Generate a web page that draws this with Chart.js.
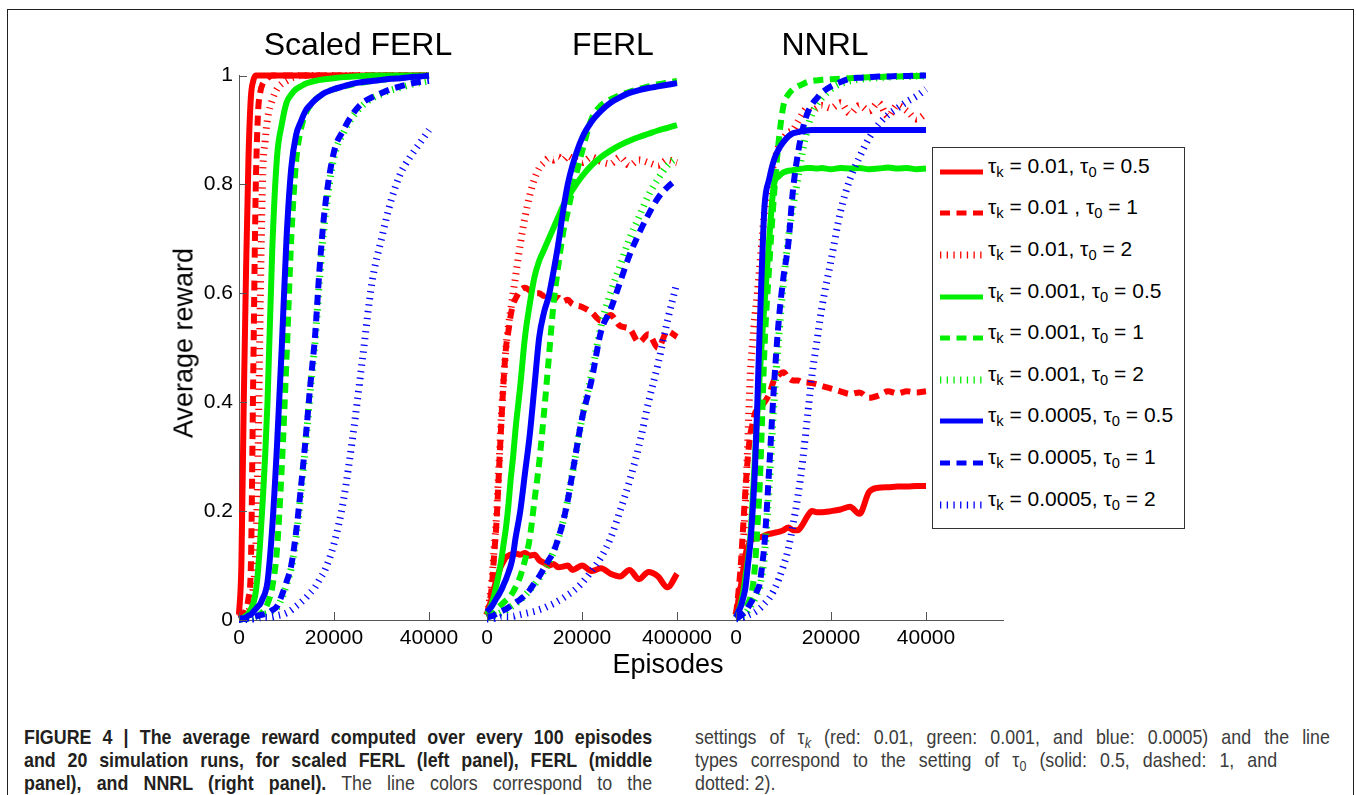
<!DOCTYPE html>
<html>
<head>
<meta charset="utf-8">
<title>Average reward: scaled FERL, FERL and NNRL</title>
<script src="https://cdn.jsdelivr.net/npm/chart.js@4.4.1/dist/chart.umd.min.js"></script>
<style>
  html, body { margin: 0; padding: 0; background: #fff; }
  body {
    position: relative; width: 1356px; height: 795px; overflow: hidden;
    font-family: "Liberation Sans", Arial, Helvetica, sans-serif; color: #000;
  }
  .frame {
    position: absolute; left: 7px; top: 9px; width: 1347px; height: 900px;
    border: 1.6px solid #231f20; box-sizing: border-box;
  }
  canvas.plot { position: absolute; left: 0; top: 0; }
  .lbl { position: absolute; line-height: 1; white-space: nowrap; transform: translate(-50%, -50%); }
  .title { font-size: 32px; }
  .axis-title { font-size: 27px; }
  .rot { transform: translate(-50%, -50%) rotate(-90deg); }

  #legend {
    position: absolute; left: 932px; top: 147px; width: 253px; height: 382px;
    border: 1px solid #333; box-sizing: border-box; background: #fff;
  }
  .lg-row { position: absolute; left: 0; width: 100%; height: 0; }
  .lg-row canvas { position: absolute; left: 7px; top: -5px; }
  .lg-row span { position: absolute; left: 55px; top: -17px; font-size: 21px; line-height: 1; white-space: nowrap; }
  sub { font-size: 0.7em; line-height: 0; vertical-align: -0.3em; }

  .cap {
    position: absolute; font-size: 21px; line-height: 1; color: #3c3c3c;
    transform-origin: 0 50%; transform: scaleX(0.85);
  }
  .cap b { color: #231f20; }
  .just { text-align: justify; text-align-last: justify; }
</style>
</head>
<body>
<div class="frame"></div>

<canvas class="plot" id="cScaled" width="1356" height="700"></canvas>
<canvas class="plot" id="cFerl" width="1356" height="700"></canvas>
<canvas class="plot" id="cNnrl" width="1356" height="700"></canvas>

<div class="lbl title" style="left:358px; top:44px;">Scaled FERL</div>
<div class="lbl title" style="left:613px; top:44px;">FERL</div>
<div class="lbl title" style="left:825px; top:44px;">NNRL</div>
<div class="lbl axis-title rot" style="left:184px; top:343px;">Average reward</div>
<div class="lbl axis-title" style="left:668px; top:664px;">Episodes</div>

<div id="legend"></div>

<div class="cap just" style="left:24px; top:726px; width:739px;"><b>FIGURE 4 | The average reward computed over every 100 episodes</b></div>
<div class="cap just" style="left:24px; top:749px; width:739px;"><b>and 20 simulation runs, for scaled FERL (left panel), FERL (middle</b></div>
<div class="cap just" style="left:24px; top:772px; width:739px;"><b>panel), and NNRL (right panel).</b> The line colors correspond to the</div>
<div class="cap just" style="left:695px; top:726px; width:747px;">settings of τ<sub><i>k</i></sub> (red: 0.01, green: 0.001, and blue: 0.0005) and the line</div>
<div class="cap" style="left:695px; top:749px; word-spacing:9.5px; white-space:nowrap;">types correspond to the setting of τ<sub>0</sub> (solid: 0.5, dashed: 1, and</div>
<div class="cap" style="left:695px; top:772px; white-space:nowrap;">dotted: 2).</div>

<script>
// episodes at which the averaged reward is sampled (shared by all series)
const episodes = [0, 500, 1000, 1500, 2000, 2500, 3000, 3500, 4000, 4500, 5000, 5500, 6000,
  7000, 8000, 9000, 10000, 11000, 12000, 13000, 14000, 15000, 16000, 17000, 18000,
  20000, 22000, 24000, 26000, 28000, 30000, 32000, 34000, 36000, 38000, 40000];

// ── Scaled FERL ──
const scaledK01T05 = [0.01,0.1,0.4,0.65,0.85,0.96,0.99,1,1,1,1,1,1, 1,1,1,1,1,1,1,1,1,1,1,1, 1,1,1,1,1,1,1,1,1,1,1];
const scaledK01T1 = [0.005,0.008,0.012,0.02,0.04,0.1,0.45,0.78,0.93,0.97,0.985,0.99,0.995, 1,1,1,1,1,1,1,1,1,1,1,1, 1,1,1,1,1,1,1,1,1,1,1];
const scaledK01T2 = [0.003,0.005,0.008,0.01,0.015,0.03,0.06,0.12,0.3,0.6,0.82,0.88,0.92, 0.955,0.975,0.985,0.99,0.995,0.998,1,1,1,1,1,1, 1,1,1,1,1,1,1,1,1,1,1];
const scaledK001T05 = [0.002,0.003,0.005,0.008,0.012,0.02,0.03,0.05,0.09,0.15,0.22,0.3,0.4, 0.68,0.85,0.91,0.95,0.965,0.975,0.98,0.985,0.988,0.99,0.992,0.993, 0.995,0.997,0.998,0.999,1,1,1,1,1,1,1];
const scaledK001T1 = [0.001,0.001,0.002,0.002,0.003,0.004,0.005,0.006,0.008,0.011,0.015,0.02,0.03, 0.06,0.13,0.28,0.48,0.7,0.84,0.9,0.93,0.945,0.955,0.962,0.968, 0.975,0.98,0.984,0.987,0.99,0.992,0.994,0.996,0.997,0.998,0.999];
const scaledK001T2 = [0.001,0.001,0.002,0.002,0.003,0.004,0.005,0.006,0.008,0.009,0.01,0.011,0.012, 0.017,0.023,0.04,0.065,0.095,0.15,0.23,0.32,0.42,0.51,0.63,0.73, 0.85,0.895,0.925,0.945,0.958,0.966,0.973,0.978,0.983,0.987,0.99];
const scaledK0005T05 = [0.002,0.003,0.003,0.005,0.008,0.01,0.015,0.02,0.025,0.03,0.04,0.05,0.07, 0.17,0.32,0.5,0.7,0.83,0.89,0.915,0.935,0.946,0.955,0.962,0.968, 0.975,0.98,0.985,0.988,0.99,0.992,0.994,0.995,0.997,0.998,1];
const scaledK0005T1 = [0.001,0.001,0.002,0.002,0.003,0.004,0.005,0.006,0.008,0.009,0.01,0.011,0.012, 0.018,0.025,0.045,0.07,0.1,0.16,0.24,0.33,0.43,0.52,0.65,0.75, 0.86,0.9,0.93,0.95,0.96,0.968,0.975,0.98,0.985,0.988,0.99];
const scaledK0005T2 = [0.001,0.001,0.001,0.001,0.001,0.002,0.002,0.003,0.003,0.004,0.004,0.005,0.005, 0.006,0.008,0.01,0.013,0.018,0.025,0.032,0.04,0.05,0.06,0.075,0.09, 0.14,0.22,0.34,0.48,0.62,0.7,0.77,0.82,0.85,0.875,0.9];

// ── FERL ──
const ferlK01T05 = [0.01,0.025,0.04,0.058,0.075,0.088,0.1,0.108,0.115,0.118,0.12,0.121,0.122, 0.12,0.123,0.118,0.12,0.11,0.105,0.1,0.103,0.097,0.098,0.1,0.092, 0.1,0.09,0.095,0.085,0.08,0.092,0.075,0.088,0.08,0.06,0.085];
const ferlK01T1 = [0.01,0.03,0.06,0.12,0.18,0.27,0.36,0.44,0.5,0.53,0.56,0.58,0.59, 0.605,0.61,0.605,0.6,0.6,0.595,0.6,0.59,0.592,0.585,0.588,0.58, 0.575,0.565,0.55,0.56,0.54,0.535,0.51,0.525,0.5,0.53,0.52];
const ferlK01T2 = [0.01,0.035,0.07,0.13,0.19,0.28,0.37,0.44,0.5,0.54,0.57,0.6,0.63, 0.69,0.74,0.78,0.81,0.83,0.84,0.848,0.845,0.85,0.845,0.852,0.848, 0.84,0.85,0.842,0.838,0.85,0.835,0.845,0.84,0.835,0.845,0.84];
const ferlK001T05 = [0.01,0.02,0.03,0.045,0.065,0.085,0.11,0.14,0.17,0.21,0.26,0.3,0.35, 0.43,0.52,0.58,0.63,0.66,0.68,0.7,0.72,0.74,0.76,0.775,0.79, 0.815,0.835,0.85,0.862,0.872,0.88,0.887,0.893,0.899,0.904,0.909];
const ferlK001T1 = [0.005,0.007,0.01,0.015,0.02,0.024,0.028,0.032,0.036,0.04,0.045,0.052,0.06, 0.08,0.11,0.15,0.22,0.29,0.38,0.48,0.58,0.65,0.71,0.75,0.79, 0.86,0.92,0.945,0.956,0.964,0.97,0.975,0.98,0.984,0.987,0.99];
const ferlK001T2 = [0.004,0.005,0.006,0.008,0.01,0.012,0.014,0.016,0.018,0.021,0.024,0.027,0.03, 0.037,0.045,0.055,0.065,0.077,0.09,0.105,0.125,0.15,0.18,0.22,0.27, 0.37,0.45,0.54,0.6,0.65,0.7,0.74,0.78,0.81,0.835,0.85];
const ferlK0005T05 = [0.015,0.02,0.025,0.032,0.04,0.047,0.055,0.065,0.075,0.087,0.1,0.12,0.15, 0.2,0.27,0.34,0.43,0.52,0.565,0.595,0.64,0.69,0.75,0.8,0.835, 0.885,0.915,0.935,0.95,0.96,0.968,0.973,0.977,0.98,0.983,0.986];
const ferlK0005T1 = [0.005,0.006,0.007,0.009,0.012,0.014,0.016,0.018,0.02,0.023,0.026,0.029,0.032, 0.038,0.045,0.055,0.068,0.08,0.095,0.11,0.125,0.15,0.18,0.22,0.27, 0.37,0.44,0.53,0.57,0.62,0.67,0.71,0.745,0.775,0.795,0.81];
const ferlK0005T2 = [0.002,0.002,0.003,0.003,0.004,0.004,0.005,0.005,0.006,0.006,0.007,0.007,0.008, 0.01,0.012,0.014,0.016,0.019,0.022,0.026,0.03,0.035,0.04,0.046,0.052, 0.068,0.09,0.115,0.15,0.2,0.255,0.32,0.4,0.47,0.55,0.62];

// ── NNRL ──
const nnrlK01T05 = [0.01,0.035,0.06,0.09,0.12,0.135,0.145,0.148,0.15,0.151,0.152,0.153,0.155, 0.158,0.16,0.162,0.165,0.17,0.165,0.165,0.175,0.19,0.2,0.198,0.198, 0.2,0.203,0.208,0.195,0.235,0.243,0.244,0.245,0.245,0.246,0.246];
const nnrlK01T1 = [0.01,0.05,0.1,0.17,0.24,0.3,0.34,0.36,0.38,0.385,0.39,0.395,0.4, 0.415,0.44,0.45,0.455,0.445,0.44,0.44,0.437,0.436,0.435,0.433,0.43, 0.425,0.42,0.415,0.418,0.408,0.412,0.42,0.416,0.42,0.418,0.42];
const nnrlK01T2 = [0.01,0.03,0.06,0.13,0.22,0.33,0.45,0.51,0.56,0.6,0.65,0.7,0.75, 0.8,0.84,0.87,0.885,0.895,0.9,0.915,0.93,0.94,0.935,0.94,0.945, 0.94,0.95,0.93,0.945,0.935,0.95,0.925,0.945,0.935,0.92,0.93];
const nnrlK001T05 = [0.005,0.015,0.03,0.05,0.08,0.11,0.15,0.22,0.3,0.38,0.45,0.52,0.58, 0.7,0.8,0.815,0.822,0.825,0.826,0.828,0.829,0.83,0.83,0.829,0.83, 0.828,0.83,0.829,0.83,0.828,0.829,0.831,0.829,0.83,0.828,0.829];
const nnrlK001T1 = [0.003,0.005,0.01,0.015,0.02,0.03,0.04,0.06,0.1,0.17,0.25,0.37,0.5, 0.65,0.78,0.88,0.945,0.965,0.975,0.98,0.984,0.988,0.99,0.991,0.992, 0.993,0.994,0.995,0.996,0.997,0.997,0.998,0.998,0.999,0.999,1];
const nnrlK001T2 = [0.003,0.004,0.006,0.009,0.012,0.018,0.025,0.032,0.04,0.05,0.06,0.085,0.12, 0.25,0.4,0.52,0.62,0.7,0.76,0.81,0.86,0.9,0.93,0.947,0.958, 0.975,0.985,0.99,0.993,0.995,0.996,0.997,0.998,0.998,0.999,0.999];
const nnrlK0005T05 = [0.005,0.015,0.025,0.04,0.06,0.1,0.14,0.2,0.28,0.4,0.54,0.66,0.76, 0.81,0.845,0.865,0.878,0.888,0.894,0.896,0.898,0.899,0.9,0.9,0.9, 0.9,0.9,0.9,0.9,0.9,0.9,0.9,0.9,0.9,0.9,0.9];
const nnrlK0005T1 = [0.003,0.005,0.008,0.011,0.015,0.022,0.03,0.037,0.045,0.055,0.067,0.1,0.14, 0.28,0.43,0.55,0.63,0.69,0.79,0.855,0.9,0.93,0.947,0.958,0.968, 0.98,0.988,0.994,0.996,0.997,0.998,0.998,0.999,0.999,1,1];
const nnrlK0005T2 = [0.002,0.003,0.004,0.005,0.007,0.009,0.011,0.013,0.015,0.018,0.021,0.025,0.03, 0.04,0.055,0.075,0.1,0.13,0.175,0.225,0.29,0.37,0.45,0.51,0.57, 0.66,0.75,0.81,0.85,0.885,0.91,0.928,0.94,0.952,0.962,0.975];

// legend rows: [tau_k, tau_0]
const legendLabels = [
  ['0.01', '0.5'], ['0.01 ', '1'], ['0.01', '2'],
  ['0.001', '0.5'], ['0.001', '1'], ['0.001', '2'],
  ['0.0005', '0.5'], ['0.0005', '1'], ['0.0005', '2']
];

const xTicks = [0, 20000, 40000];
const scaledXLabels = ['0', '20000', '40000'];
const ferlXLabels = ['0', '20000', '400000'];
const nnrlXLabels = ['0', '20000', '40000'];
const yTicks = [0, 0.2, 0.4, 0.6, 0.8, 1];
const yTickLabels = ['0', '0.2', '0.4', '0.6', '0.8', '1'];

// colour per tau_k, line style per tau_0
const kColors = ['#ff0000', '#00ee00', '#0000ff'];
const lineStyles = [
  { dash: [], width: 6 },          // solid
  { dash: [10, 6.5], width: 6 },   // dashed
  { dash: [1.3, 5.4], width: 7 }   // dotted
];

// ── Layout ──
const CANVAS_W = 1356, CANVAS_H = 700;
const Y_TOP = 75.5, Y_BOTTOM = 620;
const PX_PER_40K = 190;      // horizontal length of 40000 episodes
const Y_AXIS_W = 60, X_AXIS_H = 40, TICK_LEN = 8;
const AXIS_COLOR = '#555';
const FONT = '"Liberation Sans", Arial, Helvetica, sans-serif';

const panels = [
  { canvas: 'cScaled', left: 239, right: 487, yAxis: true, labels: scaledXLabels,
    series: [scaledK01T05, scaledK01T1, scaledK01T2, scaledK001T05, scaledK001T1, scaledK001T2, scaledK0005T05, scaledK0005T1, scaledK0005T2] },
  { canvas: 'cFerl', left: 487, right: 736, yAxis: false, labels: ferlXLabels,
    series: [ferlK01T05, ferlK01T1, ferlK01T2, ferlK001T05, ferlK001T1, ferlK001T2, ferlK0005T05, ferlK0005T1, ferlK0005T2] },
  { canvas: 'cNnrl', left: 736, right: 1003, yAxis: false, labels: nnrlXLabels,
    series: [nnrlK01T05, nnrlK01T1, nnrlK01T2, nnrlK001T05, nnrlK001T1, nnrlK001T2, nnrlK0005T05, nnrlK0005T1, nnrlK0005T2] }
];

// matlab-style ticks pointing into the axes
const inwardTicks = {
  id: 'inwardTicks',
  afterDraw(chart) {
    const { ctx, chartArea: a, scales: { x, y } } = chart;
    ctx.save();
    ctx.strokeStyle = AXIS_COLOR;
    ctx.lineWidth = 1;
    ctx.beginPath();
    x.ticks.forEach(t => {
      const px = Math.round(x.getPixelForValue(t.value)) + 0.5;
      ctx.moveTo(px, a.bottom);
      ctx.lineTo(px, a.bottom - TICK_LEN);
    });
    if (y.options.display) {
      y.ticks.forEach(t => {
        const py = Math.round(y.getPixelForValue(t.value)) + 0.5;
        ctx.moveTo(a.left, py);
        ctx.lineTo(a.left + TICK_LEN, py);
      });
    }
    ctx.stroke();
    ctx.restore();
  }
};

function makeDataset(values, i) {
  const k = Math.floor(i / 3), style = lineStyles[i % 3];
  return {
    label: `tau_k = ${legendLabels[i][0].trim()}, tau_0 = ${legendLabels[i][1]}`,
    data: episodes.map((ep, j) => ({ x: ep, y: values[j] })),
    borderColor: kColors[k],
    borderWidth: style.width,
    borderDash: style.dash,
    borderCapStyle: 'butt',
    borderJoinStyle: 'round',
    cubicInterpolationMode: 'monotone',
    pointRadius: 0,
    fill: false,
    clip: false,
    order: 8 - i        // later settings are painted on top
  };
}

function makeChart(p) {
  new Chart(document.getElementById(p.canvas), {
    type: 'line',
    data: { datasets: p.series.map(makeDataset) },
    options: {
      responsive: false,
      animation: false,
      devicePixelRatio: 1,
      events: [],
      layout: {
        padding: {
          left: p.left - (p.yAxis ? Y_AXIS_W : 0),
          right: CANVAS_W - p.right,
          top: Y_TOP,
          bottom: CANVAS_H - Y_BOTTOM - X_AXIS_H
        }
      },
      plugins: { legend: { display: false }, tooltip: { enabled: false } },
      scales: {
        x: {
          type: 'linear',
          min: 0,
          max: 40000 * (p.right - p.left) / PX_PER_40K,
          afterBuildTicks: s => { s.ticks = xTicks.map(v => ({ value: v })); },
          afterFit: s => { s.height = X_AXIS_H; s.paddingLeft = 0; s.paddingRight = 0; },
          grid: { display: true, drawOnChartArea: false, drawTicks: false },
          border: { display: true, color: AXIS_COLOR, width: 1 },
          ticks: {
            callback: (v, idx) => p.labels[idx],
            font: { size: 21, family: FONT },
            color: '#000',
            padding: 6,
            maxRotation: 0,
            autoSkip: false
          }
        },
        y: {
          display: p.yAxis,
          min: 0,
          max: 1,
          afterBuildTicks: s => { s.ticks = yTicks.map(v => ({ value: v })); },
          afterFit: s => { if (p.yAxis) s.width = Y_AXIS_W; },
          grid: { display: true, drawOnChartArea: false, drawTicks: false },
          border: { display: true, color: AXIS_COLOR, width: 1 },
          ticks: {
            callback: (v, idx) => yTickLabels[idx],
            font: { size: 21, family: FONT },
            color: '#000',
            padding: 6
          }
        }
      }
    },
    plugins: [inwardTicks]
  });
}

panels.forEach(makeChart);

// ── Legend ──
const legend = document.getElementById('legend');
const ROW0 = 23.7, ROW_STEP = 41.6;
legendLabels.forEach(([k, t0], i) => {
  const row = document.createElement('div');
  row.className = 'lg-row';
  row.style.top = (ROW0 + i * ROW_STEP) + 'px';

  const sample = document.createElement('canvas');
  sample.width = 43;
  sample.height = 10;
  const c = sample.getContext('2d');
  const style = lineStyles[i % 3];
  c.strokeStyle = kColors[Math.floor(i / 3)];
  c.lineWidth = i % 3 === 2 ? 7 : 5;
  c.lineCap = 'butt';
  c.setLineDash(style.dash);
  c.beginPath();
  c.moveTo(0, 5);
  c.lineTo(43, 5);
  c.stroke();

  const text = document.createElement('span');
  text.innerHTML = `τ<sub>k</sub> = ${k}, τ<sub>0</sub> = ${t0}`;

  row.appendChild(sample);
  row.appendChild(text);
  legend.appendChild(row);
});
</script>
</body>
</html>
